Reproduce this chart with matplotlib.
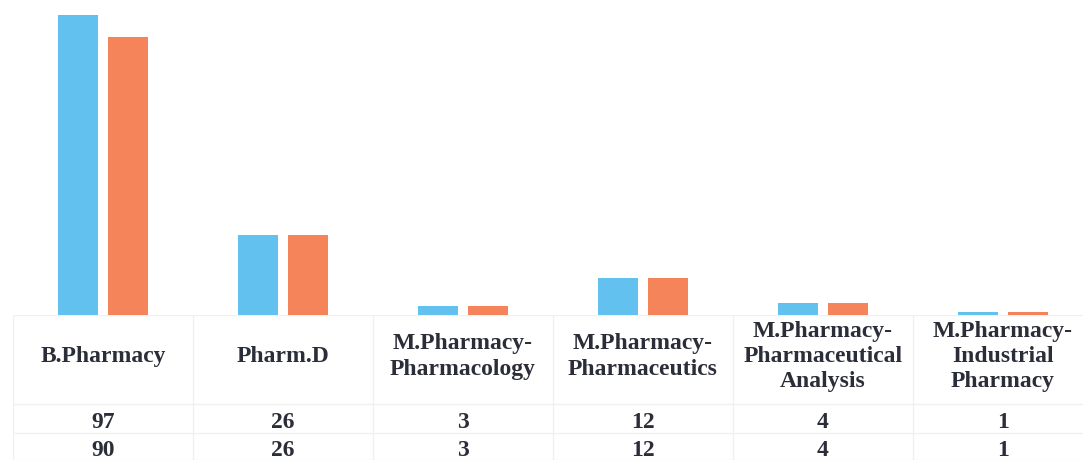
import matplotlib.pyplot as plt
import numpy as np

plt.rcParams['font.family'] = 'Liberation Serif'

# data
courses = ['B.Pharmacy', 'Pharm.D', 'M.Pharmacy-\nPharmacology', 'M.Pharmacy-\nPharmaceutics',
           'M.Pharmacy-\nPharmaceutical\nAnalysis', 'M.Pharmacy-\nIndustrial\nPharmacy']
series_a = [97, 26, 3, 12, 4, 1]
series_b = [90, 26, 3, 12, 4, 1]

blue = '#63C1EF'
orange = '#F5845B'
grid_col = '#f0f0f0'
txt_col = '#2b2d38'

W, H = 1083, 468
fig = plt.figure(figsize=(W / 100, H / 100), dpi=100)

# bars axes (pixel based placement)
x0, x1 = 13, 1093
base = 315
ax = fig.add_axes([x0 / W, (H - base) / H, (x1 - x0) / W, base / H])
x = np.arange(len(courses))
bw = 0.22
ax.bar(x - 0.14, series_a, width=bw, color=blue)
ax.bar(x + 0.14, series_b, width=bw, color=orange)
ax.set_xlim(-0.5, len(courses) - 0.5)
ax.set_ylim(0, 97 * base / (base - 15))
ax.axis('off')

# table under the bars
t_bot = 8
tab = fig.add_axes([x0 / W, t_bot / H, (x1 - x0) / W, (H - base - t_bot) / H])
tab.set_xlim(-0.5, len(courses) - 0.5)
top = H - base - t_bot
tab.set_ylim(0, top)
tab.axis('off')
r1 = H - 404 - t_bot
r2 = H - 433 - t_bot

for yy in [top, r1, r2, 0]:
    tab.axhline(yy, color=grid_col, lw=1)
for xx in np.arange(len(courses) + 1) - 0.5:
    tab.axvline(xx, color=grid_col, lw=1)

for i, c in enumerate(courses):
    tab.text(i, (top + r1) / 2 + 3, c, ha='center', va='center', fontsize=17,
             fontweight='bold', color=txt_col, linespacing=1.28)
    tab.text(i, (r1 + r2) / 2 - 4, str(series_a[i]), ha='center', va='center',
             fontsize=17, fontweight='bold', color=txt_col)
    tab.text(i, r2 / 2 - 4, str(series_b[i]), ha='center', va='center',
             fontsize=17, fontweight='bold', color=txt_col)

fig.savefig('out.png', dpi=100)
